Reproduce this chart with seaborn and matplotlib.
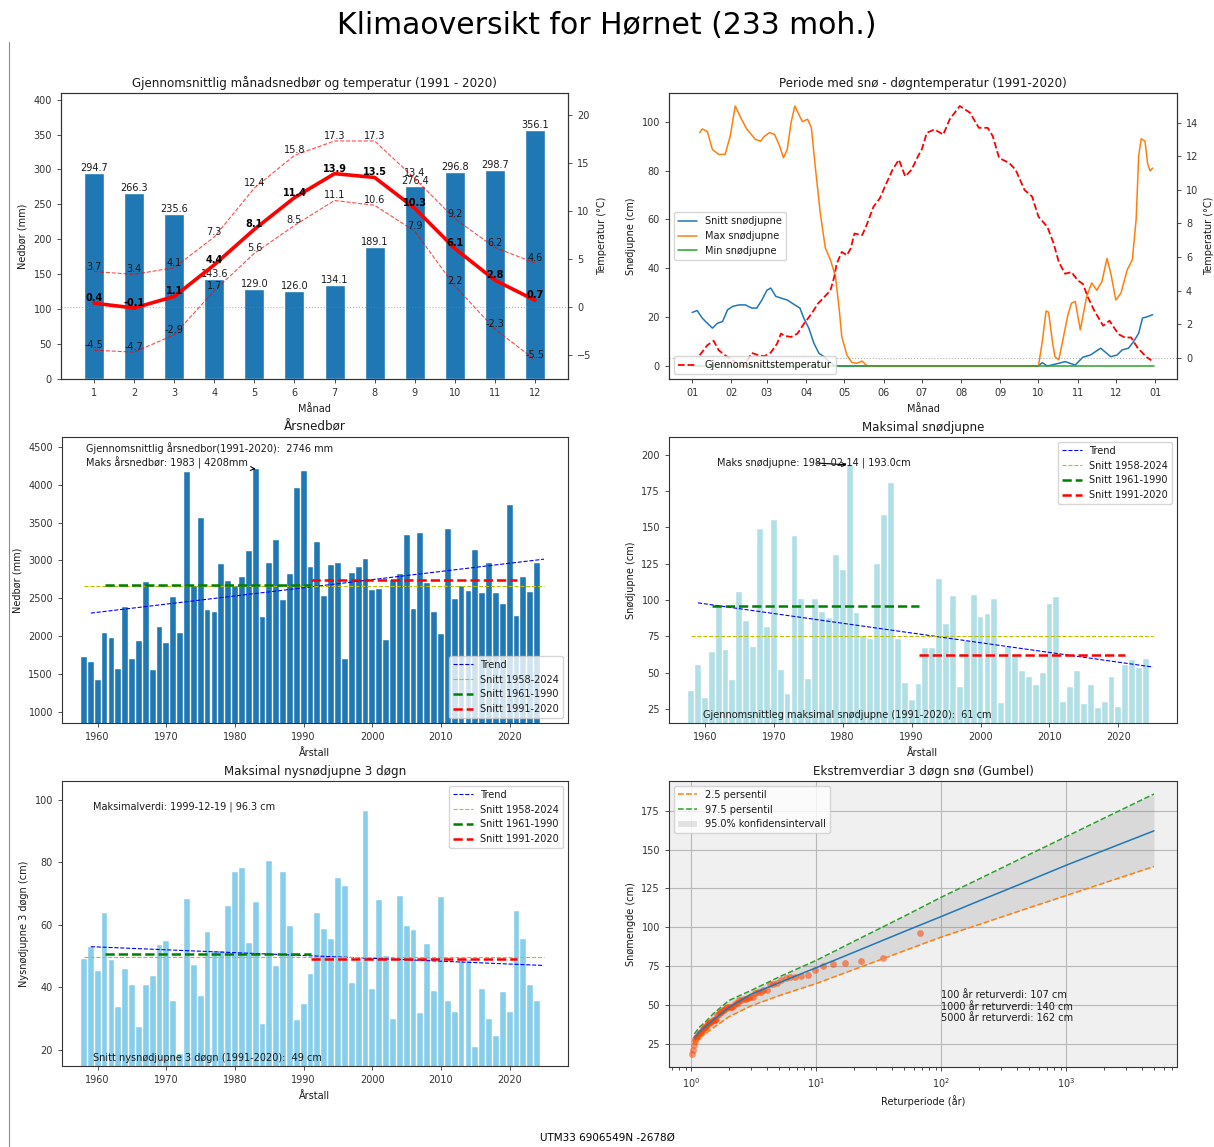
import numpy as np
import pandas as pd
import matplotlib
matplotlib.use("Agg")
import matplotlib.pyplot as plt
import matplotlib.dates as mdates
from matplotlib.lines import Line2D
import seaborn as sns

# ------------------------------------------------------------------ data
months = list(range(1, 13))
month_precip = [294.7, 266.3, 235.6, 143.6, 129.0, 126.0, 134.1, 189.1, 276.4, 296.8, 298.7, 356.1]
month_tmean = [0.4, -0.1, 1.1, 4.4, 8.1, 11.4, 13.9, 13.5, 10.3, 6.1, 2.8, 0.7]
month_tmax = [3.7, 3.4, 4.1, 7.3, 12.4, 15.8, 17.3, 17.3, 13.4, 9.2, 6.2, 4.6]
month_tmin = [-4.5, -4.7, -2.9, 1.7, 5.6, 8.5, 11.1, 10.6, 7.9, 2.2, -2.3, -5.5]

# daily snow depth / temperature (day of year, value)
snow_mean_days = [0, 4, 8, 12, 16, 20, 24, 28, 32, 37, 42, 47, 51, 55, 59, 62, 66, 70, 75, 81,
                  85, 88, 92, 96, 100, 104, 108, 113, 273, 276, 280, 289, 294, 302, 308, 314,
                  322, 330, 335, 339, 344, 348, 352, 355, 359, 363]
snow_mean_vals = [21.9, 22.7, 19.6, 17.5, 15.5, 17.5, 18.2, 23.0, 24.4, 25.0, 25.0, 23.7, 23.7,
                  27.0, 31.0, 31.9, 28.5, 27.8, 27.0, 25.0, 23.7, 19.6, 15.5, 9.3, 5.2, 3.8, 1.8,
                  0.0, 0.0, 1.4, 0.0, 1.1, 1.8, 0.4, 3.6, 4.5, 7.3, 3.8, 4.5, 6.6, 7.3, 10.0, 13.4,
                  19.6, 20.2, 21.0]
snow_max_days = [6, 8, 12, 16, 21, 26, 30, 34, 38, 43, 50, 54, 57, 61, 65, 69, 72, 75, 78, 81,
                 85, 87, 91, 94, 97, 101, 105, 109, 113, 116, 118, 122, 126, 130, 134, 138,
                 273, 276, 279, 281, 284, 286, 289, 292, 296, 299, 302, 306, 311, 315, 319, 323,
                 327, 330, 334, 338, 343, 347, 350, 352, 354, 357, 359, 361, 363]
snow_max_vals = [95.5, 97.0, 96.0, 88.6, 86.6, 86.6, 94.0, 106.4, 102.0, 97.0, 92.7, 92.0, 94.0,
                 95.5, 94.8, 90.0, 85.2, 88.6, 99.6, 106.4, 102.0, 100.0, 101.0, 97.5, 82.0, 62.7,
                 48.3, 43.5, 36.7, 23.0, 12.0, 4.5, 1.4, 1.1, 2.0, 0.0,
                 0.0, 10.0, 22.5, 22.0, 10.0, 3.8, 2.5, 10.0, 20.5, 25.7, 26.4, 14.8, 28.5, 34.0,
                 31.0, 34.5, 44.0, 38.0, 27.0, 29.8, 39.4, 43.5, 60.0, 86.0, 93.0, 92.0, 83.0,
                 79.8, 81.0]
snow_min_days = [0, 364]
snow_min_vals = [0.0, 0.0]
temp_days = [6, 12, 17, 21, 26, 31, 36, 41, 47, 52, 57, 62, 67, 70, 73, 78, 83, 88, 94, 99, 104,
             109, 112, 114, 118, 122, 125, 128, 134, 137, 143, 148, 152, 158, 163, 168, 173, 178,
             181, 185, 191, 198, 203, 211, 219, 226, 233, 237, 242, 250, 255, 262, 268, 273, 280,
             285, 289, 294, 299, 304, 308, 312, 317, 324, 329, 336, 341, 346, 351, 358, 362]
temp_vals = [0.14, 0.74, 1.0, 0.44, 0.14, -0.1, -0.4, -0.5, 0.28, 0.15, 0.08, 0.3, 0.83, 1.43,
             1.3, 1.23, 1.43, 2.0, 2.6, 3.2, 3.6, 4.0, 4.8, 5.6, 6.3, 6.1, 6.5, 7.4, 7.3, 7.8, 9.0,
             9.5, 10.2, 11.2, 11.8, 10.8, 11.2, 12.0, 12.4, 13.4, 13.6, 13.3, 14.2, 15.0, 14.6,
             13.7, 13.7, 13.2, 11.9, 11.6, 11.2, 10.0, 9.6, 8.4, 7.8, 6.8, 5.7, 5.0, 5.1, 4.6,
             4.4, 3.6, 2.8, 1.9, 2.2, 1.4, 1.2, 1.2, 0.6, 0.04, -0.16]

years = list(range(1958, 2025))
annual_precip = [1725, 1654, 1422, 2041, 1970, 1567, 2390, 1700, 1930, 2720, 1558, 2115, 1915,
                 2520, 2035, 4170, 2667, 3561, 2346, 2325, 2956, 2732, 2667, 2785, 3123, 4208,
                 2259, 2961, 3268, 2478, 2820, 3956, 4184, 2919, 3248, 2524, 2937, 2972, 1703,
                 2836, 2910, 3020, 2603, 2621, 1953, 2743, 2814, 3332, 2361, 3358, 2700, 2313,
                 2032, 3411, 2493, 2656, 2590, 3139, 2568, 2963, 2568, 2423, 3732, 2260, 2787,
                 2577, 2972]
precip_trend_x = [1959, 2025]
precip_trend_y = [2304, 3016]
precip_mean_all = 2656
precip_mean_6190 = 2669
precip_mean_9120 = 2746

max_snow = [37.4, 55.0, 32.8, 64.2, 96.5, 65.3, 44.7, 105.9, 85.9, 67.4, 149.0, 81.6, 154.9,
            52.0, 35.0, 144.0, 101.0, 46.0, 101.0, 92.0, 88.0, 130.8, 121.0, 193.0, 91.4, 75.0,
            73.5, 124.6, 158.3, 180.5, 73.0, 42.6, 31.2, 42.2, 66.7, 67.1, 114.6, 83.2, 103.1,
            39.9, 71.7, 103.6, 88.4, 90.3, 100.6, 29.4, 67.8, 62.1, 51.3, 47.2, 41.5, 49.5,
            97.1, 102.2, 29.6, 40.3, 51.3, 28.2, 41.3, 25.6, 30.0, 47.2, 26.1, 55.2, 58.7, 53.0,
            59.1]
snow_trend_x = [1959, 2025]
snow_trend_y = [98.1, 53.9]
snow_mean_all = 75.6
snow_mean_6190 = 96.0
snow_mean_9120 = 61.9

new_snow = [49.0, 53.0, 45.3, 63.8, 48.6, 33.6, 45.9, 40.7, 27.2, 40.6, 43.6, 53.4, 54.7, 35.8,
            18.6, 68.3, 47.0, 37.2, 57.7, 51.6, 51.5, 66.1, 76.7, 78.2, 54.1, 67.3, 28.2, 80.4,
            46.9, 77.0, 59.7, 29.6, 34.8, 44.4, 63.9, 58.5, 55.4, 74.9, 72.4, 41.4, 48.4, 96.3,
            39.4, 68.0, 50.0, 29.9, 69.3, 59.5, 58.3, 31.9, 54.0, 38.8, 68.9, 35.5, 32.0, 48.9,
            48.9, 20.9, 39.4, 29.8, 24.5, 38.4, 32.0, 64.4, 55.4, 40.7, 35.7]
new_trend_x = [1959, 2025]
new_trend_y = [53.0, 47.0]
new_mean_all = 49.8
new_mean_6190 = 50.8
new_mean_9120 = 49.2

gumbel_T = [1.06, 1.15, 1.3, 1.5, 2, 3, 5, 10, 20, 50, 100, 200, 500, 1000, 2000, 5000]
gumbel_fit = [29.0, 32.5, 36.2, 40.5, 48.5, 57.0, 64.3, 74.1, 84.0, 97.2, 107.0, 117.0, 130.0,
              140.0, 149.5, 162.0]
gumbel_low = [25.0, 28.5, 31.8, 35.5, 42.5, 49.5, 56.0, 63.9, 72.9, 84.8, 93.8, 101.8, 112.5,
              120.5, 128.5, 139.1]
gumbel_high = [31.5, 35.5, 39.3, 44.5, 53.0, 59.4, 68.0, 78.8, 91.0, 107.0, 119.4, 131.1, 146.7,
               158.4, 170.2, 185.7]

# ------------------------------------------------------------------ style
sns.set_style("ticks")
plt.rcParams.update({
    "font.family": ["DejaVu Sans"],
    "font.size": 7,
    "axes.titlesize": 8.6,
    "axes.labelsize": 7,
    "xtick.labelsize": 7,
    "ytick.labelsize": 7,
    "legend.fontsize": 7,
    "axes.linewidth": 0.8,
    "axes.edgecolor": "0.2",
    "text.color": "0.1",
    "axes.labelcolor": "0.1",
    "xtick.color": "0.2",
    "ytick.color": "0.2",
    "xtick.major.size": 3,
    "ytick.major.size": 3,
    "xtick.major.width": 0.6,
    "ytick.major.width": 0.6,
    "axes.titlepad": 4.5,
})

W, H = 1214, 1147
fig = plt.figure(figsize=(W / 100, H / 100), dpi=100)

def px_axes(x0, y0, x1, y1):
    return fig.add_axes([x0 / W, 1 - y1 / H, (x1 - x0) / W, (y1 - y0) / H])

BLUE, ORANGE, GREEN = "#1f77b4", "#ff7f0e", "#2ca02c"

# ------------------------------------------------------------------ panel 1
ax1 = px_axes(61, 93, 568, 379)
sns.barplot(x=months, y=month_precip, native_scale=True, width=0.5, color=BLUE,
            saturation=1, errorbar=None, ax=ax1)
for m, p in zip(months, month_precip):
    ax1.text(m, p, f"{p:.1f}", ha="center", va="bottom", fontsize=7)
ax1.set_ylim(0, max(month_precip) * 1.15)
ax1.set_yticks(range(0, 401, 50))
ax1.set_xticks(months)
ax1.set_xlabel("Månad")
ax1.set_ylabel("Nedbør (mm)")
ax1.set_title("Gjennomsnittlig månadsnedbør og temperatur (1991 - 2020)")
ax1t = ax1.twinx()
ax1t.axhline(0, color="gray", ls=":", lw=0.8, alpha=0.6)
ax1t.plot(months, month_tmax, "r--", lw=0.8, alpha=0.7)
ax1t.plot(months, month_tmin, "r--", lw=0.8, alpha=0.7)
ax1t.plot(months, month_tmean, color="red", lw=2.6)
for m, t in zip(months, month_tmean):
    ax1t.text(m, t, f"{t:.1f}", ha="center", va="bottom", fontsize=7, fontweight="bold", color="black")
for m, t in zip(months, month_tmax):
    ax1t.text(m, t, f"{t:.1f}", ha="center", va="bottom", fontsize=7)
for m, t in zip(months, month_tmin):
    ax1t.text(m, t, f"{t:.1f}", ha="center", va="bottom", fontsize=7)
ax1t.set_ylim(min(month_tmin) - 2, max(month_tmax) + 5)
ax1t.set_yticks([-5, 0, 5, 10, 15, 20])
ax1t.set_ylabel("Temperatur (°C)")

# ------------------------------------------------------------------ panel 2
base = pd.Timestamp("2021-01-01")
def to_dates(days):
    return base + pd.to_timedelta(np.asarray(days, dtype=float), unit="D")

ax2 = px_axes(669, 93, 1177, 379)
ax2.plot(to_dates(snow_mean_days), snow_mean_vals, color=BLUE, lw=1.1, label="Snitt snødjupne")
ax2.plot(to_dates(snow_max_days), snow_max_vals, color=ORANGE, lw=1.1, label="Max snødjupne")
ax2.plot(to_dates(snow_min_days), snow_min_vals, color=GREEN, lw=1.1, label="Min snødjupne")
ax2.set_yticks(range(0, 101, 20))
ax2.set_ylabel("Snødjupne (cm)")
ax2.set_xlabel("Månad")
ax2.set_title("Periode med snø - døgntemperatur (1991-2020)")
ax2.xaxis.set_major_locator(mdates.MonthLocator())
ax2.xaxis.set_major_formatter(mdates.DateFormatter("%m"))
ax2.legend(loc="center left")
ax2t = ax2.twinx()
ax2t.axhline(0, color="gray", ls=":", lw=0.8, alpha=0.6)
ax2t.plot(to_dates(temp_days), temp_vals, "r--", lw=1.3, label="Gjennomsnittstemperatur")
ax2t.set_yticks(range(0, 15, 2))
ax2t.set_ylabel("Temperatur (°C)")
ax2t.legend(loc="lower left")

# ------------------------------------------------------------------ helpers for year panels
def year_panel(ax, vals, color, trend_x, trend_y, m_all, m_6190, m_9120):
    sns.barplot(x=years, y=vals, native_scale=True, width=0.85, color=color, saturation=1,
                errorbar=None, edgecolor="white", linewidth=0.3, ax=ax)
    ax.plot(trend_x, trend_y, "b--", lw=0.8, label="Trend")
    ax.plot([1958, 2025], [m_all, m_all], "y--", lw=0.8, label="Snitt 1958-2024")
    ax.plot([1961, 1991], [m_6190, m_6190], "g--", lw=1.8, label="Snitt 1961-1990")
    ax.plot([1991, 2021], [m_9120, m_9120], "r--", lw=1.8, label="Snitt 1991-2020")
    ax.set_xlim(1954.8, 2028.5)
    ax.set_xticks(range(1960, 2021, 10))
    ax.set_xlabel("Årstall")

# ------------------------------------------------------------------ panel 3
ax3 = px_axes(62, 437, 568, 723)
year_panel(ax3, annual_precip, BLUE, precip_trend_x, precip_trend_y,
           precip_mean_all, precip_mean_6190, precip_mean_9120)
ax3.set_ylim(min(annual_precip) * 0.6, max(annual_precip) * 1.1)
ax3.set_yticks(range(1000, 4501, 500))
ax3.set_ylabel("Nedbør (mm)")
ax3.set_title("Årsnedbør")
ax3.legend(loc="lower right")
ax3.text(0.048, 0.963, "Gjennomsnittlig årsnedbor(1991-2020):  2746 mm", transform=ax3.transAxes,
         ha="left", va="center", fontsize=7)
ax3.annotate("Maks årsnedbør: 1983 | 4208mm", xy=(1983, 4208), xytext=(0.048, 0.911),
             textcoords="axes fraction", ha="left", va="center", fontsize=7,
             arrowprops=dict(arrowstyle="->", color="black", lw=0.8))

# ------------------------------------------------------------------ panel 4
ax4 = px_axes(669, 437, 1177, 723)
year_panel(ax4, max_snow, "powderblue", snow_trend_x, snow_trend_y,
           snow_mean_all, snow_mean_6190, snow_mean_9120)
ax4.set_ylim(min(max_snow) * 0.6, max(max_snow) * 1.1)
ax4.set_yticks(range(25, 201, 25))
ax4.set_ylabel("Snødjupne (cm)")
ax4.set_title("Maksimal snødjupne")
ax4.legend(loc="upper right")
ax4.annotate("Maks snødjupne: 1981-02-14 | 193.0cm", xy=(1981, 193.0), xytext=(1961.8, 194.5),
             ha="left", va="center", fontsize=7,
             arrowprops=dict(arrowstyle="->", color="black", lw=0.8))
ax4.text(0.066, 0.012, "Gjennomsnittleg maksimal snødjupne (1991-2020):  61 cm", transform=ax4.transAxes,
         ha="left", va="bottom", fontsize=7)

# ------------------------------------------------------------------ panel 5
ax5 = px_axes(62, 781, 568, 1066)
year_panel(ax5, new_snow, "skyblue", new_trend_x, new_trend_y,
           new_mean_all, new_mean_6190, new_mean_9120)
ax5.set_ylim(min(new_snow) * 0.8, max(new_snow) * 1.1)
ax5.set_yticks(range(20, 101, 20))
ax5.set_ylabel("Nysnødjupne 3 døgn (cm)")
ax5.set_title("Maksimal nysnødjupne 3 døgn")
ax5.legend(loc="upper right")
ax5.text(0.062, 0.91, "Maksimalverdi: 1999-12-19 | 96.3 cm", transform=ax5.transAxes,
         ha="left", va="center", fontsize=7)
ax5.text(0.062, 0.012, "Snitt nysnødjupne 3 døgn (1991-2020):  49 cm", transform=ax5.transAxes,
         ha="left", va="bottom", fontsize=7)

# ------------------------------------------------------------------ panel 6
ax6 = px_axes(669, 781, 1177, 1067)
ax6.set_facecolor("#f0f0f0")
ax6.set_xscale("log")
ax6.grid(True, which="major", color="#b8b8b8", lw=0.8)
ax6.set_axisbelow(True)
band = ax6.fill_between(gumbel_T, gumbel_low, gumbel_high, color="gray", alpha=0.2,
                        lw=0, label="95.0% konfidensintervall")
ax6.plot(gumbel_T, gumbel_fit, color=BLUE, lw=1.1)
l_low, = ax6.plot(gumbel_T, gumbel_low, "--", color=ORANGE, lw=1.1, label="2.5 persentil")
l_high, = ax6.plot(gumbel_T, gumbel_high, "--", color=GREEN, lw=1.1, label="97.5 persentil")
obs_sorted = sorted(new_snow, reverse=True)
n_obs = len(obs_sorted)
ret_period = [(n_obs + 1) / (i + 1) for i in range(n_obs)]
sns.scatterplot(x=ret_period, y=obs_sorted, color="orangered", alpha=0.55, s=24, linewidth=0,
                legend=False, ax=ax6)
ax6.set_yticks(range(25, 176, 25))
ax6.set_xlabel("Returperiode (år)")
ax6.set_ylabel("Snømengde (cm)")
ax6.set_title("Ekstremverdiar 3 døgn snø (Gumbel)")
ax6.legend(handles=[l_low, l_high, band], loc="upper left")
ax6.text(100, 49, "100 år returverdi: 107 cm\n1000 år returverdi: 140 cm\n5000 år returverdi: 162 cm",
         ha="left", va="center", fontsize=7)

# ------------------------------------------------------------------ figure texts
fig.text(0.5, 1 - 25 / H, "Klimaoversikt for Hørnet (233 moh.)", ha="center", va="center",
         fontsize=21.5, color="black")
fig.text(0.5, 1 - 1138 / H, "UTM33 6906549N -2678Ø", ha="center", va="center", fontsize=7.5,
         color="black")
# thin page border on the left edge
fig.add_artist(Line2D([8.5 / W, 8.5 / W], [0, 1 - 42 / H], transform=fig.transFigure,
                      color="0.55", lw=0.8))

fig.savefig("out.png", dpi=100)
